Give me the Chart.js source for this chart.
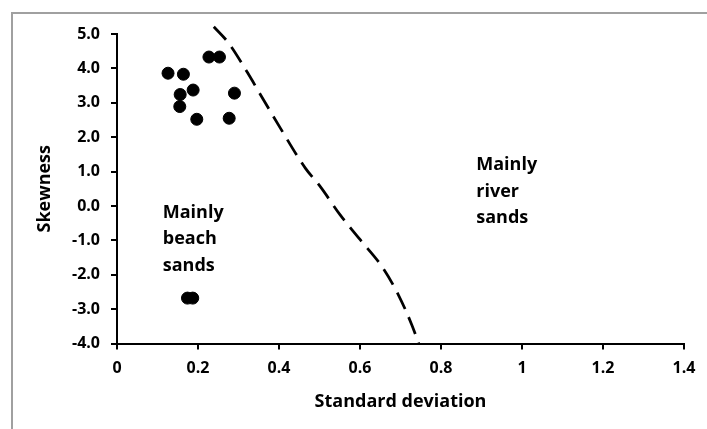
<!DOCTYPE html>
<html>
<head>
<meta charset="utf-8">
<script src="https://cdn.jsdelivr.net/npm/chart.js@4"></script>
<style>
  body { margin: 0; background: #fff; }
  #wrap { position: relative; width: 707px; height: 429px; }
  #frame {
    position: absolute; left: 11px; top: 12px; right: 0; bottom: 0;
    border-top: 2px solid #a0a0a0; border-left: 2px solid #a0a0a0;
    pointer-events: none;
  }
  canvas { position: absolute; left: 0; top: 0; }
</style>
</head>
<body>
<div id="wrap">
  <canvas id="sandChart" width="707" height="429"></canvas>
  <div id="frame"></div>
</div>
<script>
// Sample points (standard deviation vs skewness)
const sdSamples = [0.126, 0.164, 0.227, 0.253, 0.156, 0.188, 0.290, 0.155, 0.197, 0.277, 0.174, 0.187];
const skSamples = [3.86, 3.83, 4.33, 4.33, 3.24, 3.37, 3.28, 2.89, 2.52, 2.55, -2.68, -2.68];

// Dividing line between beach and river sands
const sdBoundary = [0.239, 0.276, 0.321, 0.362, 0.403, 0.465, 0.502, 0.551, 0.601, 0.654, 0.695, 0.728, 0.745];
const skBoundary = [5.21, 4.73, 3.90, 3.08, 2.27, 1.10, 0.56, -0.26, -0.99, -1.76, -2.59, -3.46, -4.0];

// Region labels
const beachLabel = ["Mainly", "beach", "sands"];
const riverLabel = ["Mainly", "river", "sands"];

const FONT = "'Open Sans', sans-serif";

// region text, placed in data coordinates
const regionText = {
    id: "regionText",
    afterDatasetsDraw(chart) {
        const { ctx, scales: { x, y } } = chart;
        ctx.save();
        ctx.fillStyle = "#000";
        ctx.font = "bold 18px " + FONT;
        ctx.textBaseline = "middle";
        ctx.textAlign = "left";
        const put = (lines, xv, yv) => {
            const px = x.getPixelForValue(xv);
            const py = y.getPixelForValue(yv);
            lines.forEach((t, i) => ctx.fillText(t, px, py + i * 26.5));
        };
        put(beachLabel, 0.113, -0.19);
        put(riverLabel, 0.887, 1.19);
        ctx.restore();
    }
};

new Chart(document.getElementById("sandChart"), {
    type: "scatter",
    data: {
        datasets: [
            {
                data: sdSamples.map((v, i) => ({ x: v, y: skSamples[i] })),
                backgroundColor: "#000",
                borderColor: "#000",
                pointRadius: 6,
                pointHoverRadius: 6
            },
            {
                data: sdBoundary.map((v, i) => ({ x: v, y: skBoundary[i] })),
                showLine: true,
                borderColor: "#000",
                borderWidth: 2.75,
                borderDash: [18, 9],
                pointRadius: 0,
                cubicInterpolationMode: "monotone",
                clip: false
            }
        ]
    },
    options: {
        responsive: false,
        animation: false,
        events: [],
        layout: { padding: { left: 0, top: 34, right: 23, bottom: 0 } },
        plugins: { legend: { display: false }, tooltip: { enabled: false } },
        scales: {
            x: {
                type: "linear",
                min: 0,
                max: 1.4,
                afterFit: s => { s.height = 85.5; },
                border: { color: "#000", width: 2 },
                grid: { drawOnChartArea: false, color: "#000", lineWidth: 2, tickLength: 6 },
                ticks: {
                    stepSize: 0.2,
                    padding: 9,
                    color: "#000",
                    font: { family: FONT, size: 16, weight: "bold" },
                    callback: v => String(Number(v.toFixed(1)))
                },
                title: {
                    display: true,
                    text: "Standard deviation",
                    color: "#000",
                    font: { family: FONT, size: 18, weight: "bold" },
                    padding: { top: 16, bottom: 16 }
                }
            },
            y: {
                type: "linear",
                min: -4,
                max: 5,
                afterFit: s => { s.width = 117; },
                border: { color: "#000", width: 2 },
                grid: { drawOnChartArea: false, color: "#000", lineWidth: 2, tickLength: 6 },
                ticks: {
                    stepSize: 1,
                    padding: 11,
                    color: "#000",
                    font: { family: FONT, size: 16, weight: "bold" },
                    callback: v => v.toFixed(1)
                },
                title: {
                    display: true,
                    text: "Skewness",
                    color: "#000",
                    font: { family: FONT, size: 18, weight: "bold" },
                    padding: { top: 34, bottom: 0 }
                }
            }
        }
    },
    plugins: [regionText]
});
</script>
</body>
</html>
